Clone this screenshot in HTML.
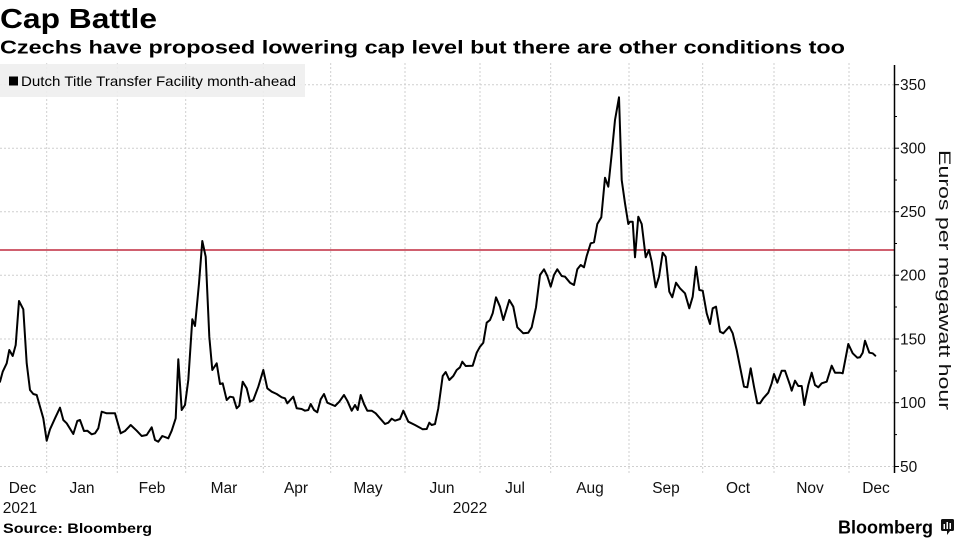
<!DOCTYPE html>
<html>
<head>
<meta charset="utf-8">
<style>
html,body{margin:0;padding:0;background:#fff;}
svg{display:block;}
text{font-family:"Liberation Sans",Arial,sans-serif;}
</style>
</head>
<body>
<svg width="958" height="538" viewBox="0 0 958 538" xmlns="http://www.w3.org/2000/svg">
<rect x="0" y="0" width="958" height="538" fill="#fff"/>
<!-- Title -->
<text x="0" y="28" font-size="28" font-weight="bold" fill="#000" textLength="157" lengthAdjust="spacingAndGlyphs">Cap Battle</text>
<text x="0" y="53.5" font-size="18" font-weight="bold" fill="#000" textLength="845" lengthAdjust="spacingAndGlyphs">Czechs have proposed lowering cap level but there are other conditions too</text>

<!-- Gridlines horizontal -->
<g stroke="#cfcfcf" stroke-width="1" stroke-dasharray="2,2">
<line x1="0" y1="84.7" x2="894" y2="84.7"/>
<line x1="0" y1="148.2" x2="894" y2="148.2"/>
<line x1="0" y1="211.7" x2="894" y2="211.7"/>
<line x1="0" y1="275.2" x2="894" y2="275.2"/>
<line x1="0" y1="339" x2="894" y2="339"/>
<line x1="0" y1="402.7" x2="894" y2="402.7"/>
<line x1="0" y1="466.5" x2="894" y2="466.5"/>
</g>
<!-- Gridlines vertical -->
<g stroke="#cfcfcf" stroke-width="1" stroke-dasharray="2,2">
<line x1="46.7" y1="63" x2="46.7" y2="473"/>
<line x1="117.3" y1="63" x2="117.3" y2="473"/>
<line x1="185.7" y1="63" x2="185.7" y2="473"/>
<line x1="263.3" y1="63" x2="263.3" y2="473"/>
<line x1="330.7" y1="63" x2="330.7" y2="473"/>
<line x1="405" y1="63" x2="405" y2="473"/>
<line x1="480" y1="63" x2="480" y2="473"/>
<line x1="550.7" y1="63" x2="550.7" y2="473"/>
<line x1="629" y1="63" x2="629" y2="473"/>
<line x1="702.7" y1="63" x2="702.7" y2="473"/>
<line x1="774" y1="63" x2="774" y2="473"/>
<line x1="849" y1="63" x2="849" y2="473"/>
</g>

<!-- Legend -->
<rect x="0" y="64" width="305" height="33" fill="#eeeeee" opacity="0.9"/>
<rect x="9" y="76.5" width="9" height="9" fill="#000"/>
<text x="21" y="86" font-size="14" fill="#000" textLength="275" lengthAdjust="spacingAndGlyphs">Dutch Title Transfer Facility month-ahead</text>

<!-- Red cap line -->
<line x1="0" y1="250" x2="894" y2="250" stroke="#d0606f" stroke-width="2"/>

<!-- Data line -->
<polyline fill="none" stroke="#000" stroke-width="2" stroke-linejoin="round" stroke-linecap="round" points="0,381.7 2.7,371.7 6.7,363.3 9.3,350 12.7,356 15.7,345 19,301 23.3,309.3 26.7,363.3 30,390 33.3,394 36.7,395 43.3,418.3 46.7,440.7 50,429.3 55,418.3 60,407.7 63.3,420 66.7,423.3 73.3,434 77.3,421 80,420 84,431 87.3,430.7 91.7,434.3 95,433.3 98.3,428.3 101.7,411.7 106.7,413.3 115,413.3 120.7,433.3 125,431 130.7,425 136.7,430.7 141.7,436 146.7,435 151.7,427.3 155,440 158.3,441.7 162.3,436 168.3,438.3 171.7,430.7 175.7,418.3 178.3,359.3 181.7,410 185,405 188.3,380 192.3,319.3 195,326 199,283.3 202.3,241 205.7,256.7 209.3,336.7 212.3,370 216.7,363.3 220,384 222.7,383.3 226.7,400 230,396.7 233.3,397.3 236.7,408.3 239.3,405.7 242.7,381.7 246.7,388.3 250,401.7 253.3,400 258.3,386.7 263.3,370 267.3,388.3 271.7,391.7 276.7,394 281.7,397.3 285,398.3 287.3,403.3 293.3,396.7 296.7,408.3 301.7,409 305,410.7 308.3,410 310.7,404 314,410 317.3,412.3 320.7,399.3 324,394 327.3,402.7 335,406 339.3,401.7 344,395 347.3,400.7 351.7,410.7 355,405 357.7,410 360.7,395 364,404 367.3,410.7 371.7,410.7 375.7,413.3 380,418.3 385,424 388.3,422.7 391.7,418.7 395,420.7 400,419 403.3,410.7 408.3,421.7 415,425 420,427.7 422.7,429.3 426.7,429 429.3,422.7 431.7,425 435,424 438.3,408.3 442.7,376 445.7,372 449.3,380 453.3,376 456.7,370 460,367.3 462.3,361.7 465.7,366 472.7,365.7 476.7,352.7 480,346.7 483.3,342.7 486.7,322.7 490,320 492.7,313.3 496,297.3 500,306.7 503.3,320 509.3,300 513.3,306.7 517.3,327.3 523.3,333.3 528.3,332.7 531.7,327.3 536,307.3 540,275 544,269.3 547.3,276 550.7,286.7 554,275 557.3,269.3 561.7,276 565,276.7 570,282.7 574,285 577.3,269.3 580.7,265 584,267.3 586.7,256 590.7,243.3 594,242.3 597.3,224 601.3,217.3 605,177.7 608.3,186.7 611.7,154 615,120 619,97.3 621.7,180 625,203.3 628.3,224 630,221.7 632.7,221.7 635,257.3 638.3,216.7 641.7,224 645.7,257.3 649,250 651.7,261.7 655.7,287.3 659,276.7 662.7,252.7 665.7,256.7 669.3,291.7 672.3,297.3 676,282.7 680,288.3 685,293.3 689.3,308.3 692.7,296.7 696,266.7 699.3,290 702.7,290.7 706.7,313.3 710,324 712.7,308.3 716,306.7 720,331.7 723.3,333.3 729.3,326.7 732.7,333.3 736.7,350 740,366.7 744,386.7 747.3,387.3 750.7,368.3 754,386.7 757.3,403.3 760,403.3 763.3,398.3 768.3,392.7 771.7,383.3 774,374 777.3,382.7 781.7,370.7 785,370.7 790,385 791.7,390.7 795,380.7 798.3,386 801.7,386 804.3,405 808.3,385 811.7,372.7 815,385 818.3,387.3 821.7,383.3 826.7,381.7 831.7,365.7 835,372.7 840,372.7 842.7,373.3 848.3,344 852.7,353.3 857.3,357.7 860,357.3 862.7,352.7 865,340.7 869.3,352.7 872.7,353.3 875.3,355.7"/>

<!-- Y axis -->
<line x1="894.5" y1="65" x2="894.5" y2="473" stroke="#000" stroke-width="1.5"/>
<g stroke="#000" stroke-width="1">
<line x1="894" y1="84.7" x2="899" y2="84.7"/>
<line x1="894" y1="148.2" x2="899" y2="148.2"/>
<line x1="894" y1="211.7" x2="899" y2="211.7"/>
<line x1="894" y1="275.2" x2="899" y2="275.2"/>
<line x1="894" y1="339" x2="899" y2="339"/>
<line x1="894" y1="402.7" x2="899" y2="402.7"/>
<line x1="894" y1="466.5" x2="899" y2="466.5"/>
<line x1="894" y1="116.5" x2="897" y2="116.5"/>
<line x1="894" y1="180" x2="897" y2="180"/>
<line x1="894" y1="243.5" x2="897" y2="243.5"/>
<line x1="894" y1="307" x2="897" y2="307"/>
<line x1="894" y1="371" x2="897" y2="371"/>
<line x1="894" y1="434.6" x2="897" y2="434.6"/>
</g>
<g font-size="15.5" fill="#111">
<text x="900" y="90.2">350</text>
<text x="900" y="153.7">300</text>
<text x="900" y="217.2">250</text>
<text x="900" y="280.7">200</text>
<text x="900" y="344.5">150</text>
<text x="900" y="408.2">100</text>
<text x="900" y="472">50</text>
</g>
<text transform="translate(939,150) rotate(90)" x="0" y="0" font-size="17" fill="#111" textLength="260" lengthAdjust="spacingAndGlyphs">Euros per megawatt hour</text>

<!-- X labels -->
<g font-size="15.5" fill="#111" text-anchor="middle">
<text x="22.5" y="493">Dec</text>
<text x="82" y="493">Jan</text>
<text x="152" y="493">Feb</text>
<text x="224" y="493">Mar</text>
<text x="296" y="493">Apr</text>
<text x="368" y="493">May</text>
<text x="442" y="493">Jun</text>
<text x="515" y="493">Jul</text>
<text x="590" y="493">Aug</text>
<text x="666" y="493">Sep</text>
<text x="738" y="493">Oct</text>
<text x="810" y="493">Nov</text>
<text x="876" y="493">Dec</text>
<text x="20" y="513">2021</text>
<text x="470" y="513">2022</text>
</g>

<!-- Footer -->
<text x="3" y="533" font-size="13.5" font-weight="bold" fill="#000" textLength="149" lengthAdjust="spacingAndGlyphs">Source: Bloomberg</text>
<text x="838" y="533.5" font-size="18" font-weight="bold" fill="#000" textLength="95" lengthAdjust="spacingAndGlyphs">Bloomberg</text>
<g>
<rect x="941" y="519" width="13" height="12" rx="1.5" fill="#111"/>
<polygon points="947,531 950,531 947,535" fill="#111"/>
<rect x="943.5" y="524" width="1.5" height="5" fill="#fff"/>
<rect x="946.5" y="522" width="1.5" height="7" fill="#fff"/>
<rect x="949.5" y="523" width="1.5" height="6" fill="#fff"/>
</g>
</svg>
</body>
</html>
